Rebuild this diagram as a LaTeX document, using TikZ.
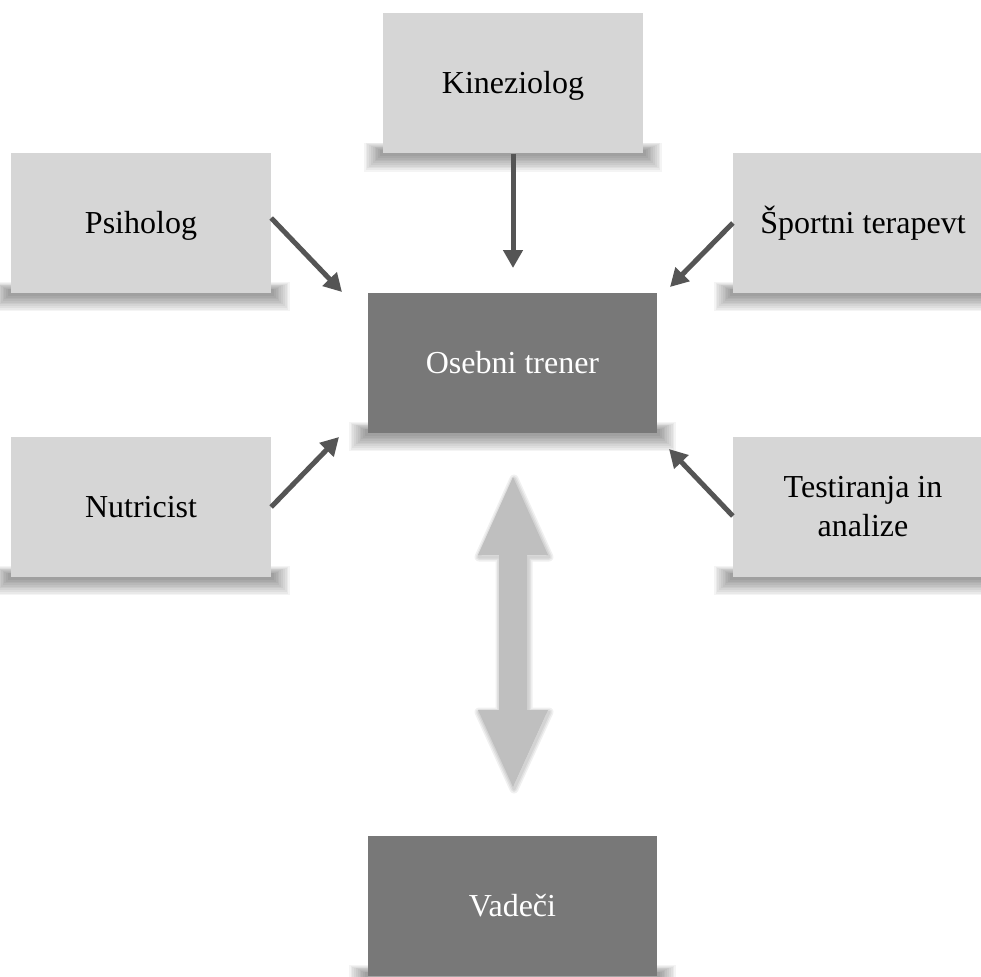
\documentclass[tikz,border=0pt]{standalone}
\usepackage{fontspec}
\setmainfont{Liberation Serif}
\usetikzlibrary{arrows.meta,calc,backgrounds}
\definecolor{lightbox}{HTML}{D6D6D6}
\definecolor{darkbox}{HTML}{787878}
\definecolor{arrowc}{HTML}{555555}
\definecolor{bigarr}{HTML}{BFBFBF}
\tikzset{
  shadowlayer/.style={fill=black, opacity=0.042},
  base/.style={rectangle, inner sep=0pt, align=center, font=\fontsize{32}{39}\selectfont},
  oneline/.style={text height=28pt, text depth=7pt},
  lightnode/.style={base, fill=lightbox, text=black, minimum width=260pt, minimum height=140pt},
  darknode/.style={base, fill=darkbox, text=white, minimum width=289pt, minimum height=140pt},
  conn/.style={draw=arrowc, line width=5pt, -{Triangle[length=18pt,width=19pt]}},
  bigarrow/.style={fill=bigarr},
  bigarrowshadow/.style={draw=black, opacity=0.06, line join=round}
}
\begin{document}
\begin{tikzpicture}[x=1pt,y=-1pt]
\useasboundingbox (0,0) rectangle (981,976);
\node[lightnode, oneline] (kin) at (513,83.5) {Kineziolog};
\node[lightnode, oneline] (psi) at (141,223) {Psiholog};
\node[lightnode, oneline] (spo) at (863,223) {Športni terapevt};
\node[darknode, oneline] (ost) at (512.5,363) {Osebni trener};
\node[lightnode, oneline] (nut) at (141,507) {Nutricist};
\node[lightnode] (tes) at (863,507) {Testiranja in\\analize};
\node[darknode, oneline] (vad) at (512.5,906) {Vadeči};
\begin{pgfonlayer}{background}
\fill[white] (0,0) rectangle (981,976);
\foreach \n in {kin,psi,spo,ost,nut,tes,vad}{
  \foreach \i in {1,...,10}{
    \fill[shadowlayer] ($(\n.south west)+(-1-1.8*\i,-3-0.8*\i)$) rectangle ($(\n.south east)+(1+1.8*\i,1+1.7*\i)$);
  }
}
\end{pgfonlayer}
\coordinate (kintip) at (513,268);
\coordinate (psitip) at (342,292);
\coordinate (spotip) at (670,287);
\coordinate (nuttip) at (339,437);
\coordinate (testip) at (669,449);
\draw[conn] (kin.south) -- (kintip);
\draw[conn] ([yshift=5pt]psi.east) -- (psitip);
\draw[conn] (spo.west) -- (spotip);
\draw[conn] (nut.east) -- (nuttip);
\draw[conn] ([yshift=-9pt]tes.west) -- (testip);
\coordinate (bt) at (513,477);
\coordinate (bb) at (513,787);
\foreach \w in {9,6,3}{
  \path[bigarrowshadow, line width=\w pt] ([shift={(1,2)}]bt) -- ++(35,78) -- ++(-21,0) -- ++(0,155) -- ++(21,0) -- ([shift={(1,2)}]bb)
    -- ++(-35,-77) -- ++(21,0) -- ++(0,-155) -- ++(-21,0) -- cycle;
}
\path[bigarrow] (bt) -- ++(35,78) -- ++(-21,0) -- ++(0,155) -- ++(21,0) -- (bb)
  -- ++(-35,-77) -- ++(21,0) -- ++(0,-155) -- ++(-21,0) -- cycle;
\end{tikzpicture}
\end{document}
